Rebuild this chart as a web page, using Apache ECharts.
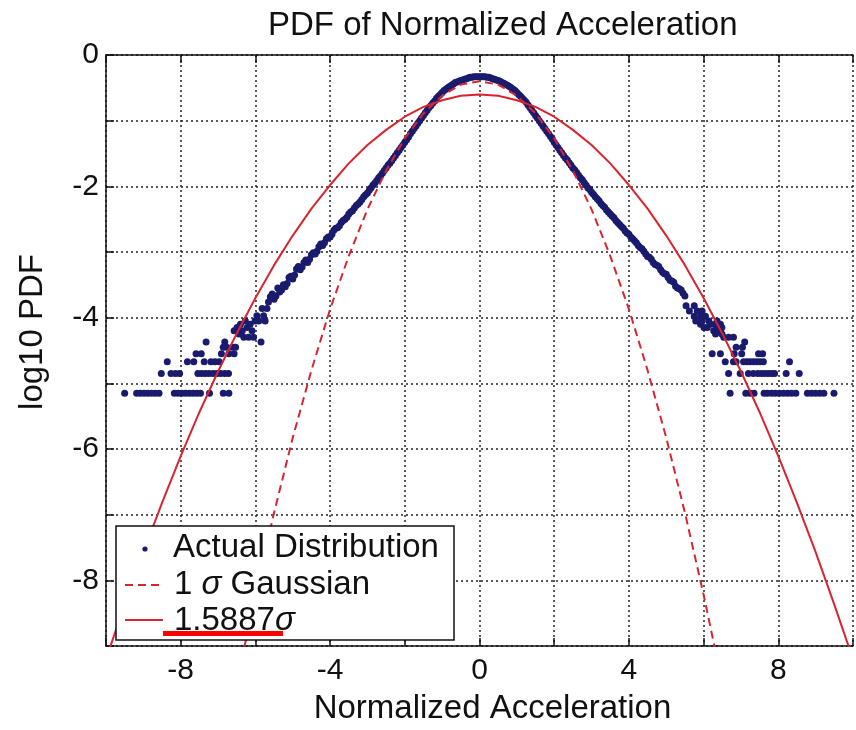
<!DOCTYPE html>
<html>
<head>
<meta charset="utf-8">
<script src="https://cdn.jsdelivr.net/npm/echarts@6/dist/echarts.min.js"></script>
<style>
  html, body { margin: 0; padding: 0; background: #fff; }
  #chart { width: 856px; height: 730px; }
</style>
</head>
<body>
<div id="chart"></div>
<script>
// Axis tick labels that carry text
const xTickLabels = [-8, -4, 0, 4, 8];
const yTickLabels = [0, -2, -4, -6, -8];

// Measured histogram: log10 of the PDF, core of the distribution [x, log10 pdf]
const actualCore = [
  [-5.6,-3.68],[-5.5,-3.72],[-5.4,-3.55],[-5.3,-3.58],[-5.2,-3.53],[-5.1,-3.39],[-5.0,-3.41],
  [-4.9,-3.26],[-4.8,-3.27],[-4.7,-3.16],[-4.6,-3.16],[-4.5,-3.04],[-4.4,-3.03],[-4.3,-2.92],
  [-4.2,-2.90],[-4.1,-2.80],[-4.0,-2.77],[-3.9,-2.67],[-3.8,-2.63],[-3.7,-2.55],[-3.6,-2.50],
  [-3.5,-2.42],[-3.4,-2.37],[-3.3,-2.29],[-3.2,-2.24],[-3.1,-2.16],[-3.0,-2.10],[-2.9,-2.02],
  [-2.8,-1.95],[-2.7,-1.87],[-2.6,-1.80],[-2.5,-1.72],[-2.4,-1.65],[-2.3,-1.57],[-2.2,-1.49],
  [-2.1,-1.41],[-2.0,-1.33],[-1.9,-1.25],[-1.8,-1.16],[-1.7,-1.08],[-1.6,-1.00],[-1.5,-0.92],
  [-1.4,-0.84],[-1.3,-0.77],[-1.2,-0.70],[-1.1,-0.63],[-1.0,-0.57],[-0.9,-0.52],[-0.8,-0.48],
  [-0.7,-0.44],[-0.6,-0.41],[-0.5,-0.39],[-0.4,-0.37],[-0.3,-0.35],[-0.2,-0.34],[-0.1,-0.33],
  [0.0,-0.33],
  [0.1,-0.33],[0.2,-0.34],[0.3,-0.35],[0.4,-0.37],[0.5,-0.39],[0.6,-0.42],[0.7,-0.45],
  [0.8,-0.48],[0.9,-0.52],[1.0,-0.57],[1.1,-0.63],[1.2,-0.69],[1.3,-0.76],[1.4,-0.84],
  [1.5,-0.92],[1.6,-1.00],[1.7,-1.08],[1.8,-1.16],[1.9,-1.24],[2.0,-1.33],[2.1,-1.41],
  [2.2,-1.49],[2.3,-1.57],[2.4,-1.64],[2.5,-1.72],[2.6,-1.79],[2.7,-1.87],[2.8,-1.94],
  [2.9,-2.02],[3.0,-2.09],[3.1,-2.16],[3.2,-2.22],[3.3,-2.29],[3.4,-2.36],[3.5,-2.42],
  [3.6,-2.48],[3.7,-2.55],[3.8,-2.61],[3.9,-2.68],[4.0,-2.73],[4.1,-2.80],[4.2,-2.86],
  [4.3,-2.93],[4.4,-2.99],[4.5,-3.07],[4.6,-3.11],[4.7,-3.19],[4.8,-3.22],[4.9,-3.31],
  [5.0,-3.34],[5.1,-3.43],[5.2,-3.46],[5.3,-3.55],[5.4,-3.58],[5.5,-3.67]
];

// Half-step bins of the core
const actualCoreMid = [
  [-5.55,-3.64],[-5.45,-3.67],[-5.35,-3.61],[-5.25,-3.50],[-5.15,-3.48],[-5.05,-3.37],[-4.95,-3.35],
  [-4.85,-3.22],[-4.75,-3.23],[-4.65,-3.12],[-4.55,-3.11],[-4.45,-3.01],[-4.35,-2.99],[-4.25,-2.88],
  [-4.15,-2.86],[-4.05,-2.77],[-3.95,-2.73],[-3.85,-2.64],[-3.75,-2.60],[-3.65,-2.52],[-3.55,-2.47],
  [-3.45,-2.39],[-3.35,-2.33],[-3.25,-2.27],[-3.15,-2.20],[-3.05,-2.13],[-2.95,-2.06],[-2.85,-1.98],
  [-2.75,-1.91],[-2.65,-1.84],[-2.55,-1.76],[-2.45,-1.68],[-2.35,-1.61],[-2.25,-1.53],[-2.15,-1.45],
  [-2.05,-1.37],[-1.95,-1.29],[-1.85,-1.20],[-1.75,-1.12],[-1.65,-1.04],[-1.55,-0.96],[-1.45,-0.88],
  [-1.35,-0.80],[-1.25,-0.73],[-1.15,-0.66],[-1.05,-0.60],[-0.95,-0.54],[-0.85,-0.50],[-0.75,-0.46],
  [-0.65,-0.42],[-0.55,-0.40],[-0.45,-0.38],[-0.35,-0.36],[-0.25,-0.34],[-0.15,-0.33],[-0.05,-0.33],
  [0.05,-0.33],[0.15,-0.33],[0.25,-0.34],[0.35,-0.36],[0.45,-0.38],[0.55,-0.40],[0.65,-0.43],
  [0.75,-0.46],[0.85,-0.50],[0.95,-0.54],[1.05,-0.60],[1.15,-0.66],[1.25,-0.72],[1.35,-0.80],
  [1.45,-0.88],[1.55,-0.96],[1.65,-1.04],[1.75,-1.12],[1.85,-1.20],[1.95,-1.28],[2.05,-1.37],
  [2.15,-1.45],[2.25,-1.53],[2.35,-1.60],[2.45,-1.68],[2.55,-1.75],[2.65,-1.83],[2.75,-1.90],
  [2.85,-1.98],[2.95,-2.05],[3.05,-2.12],[3.15,-2.19],[3.25,-2.26],[3.35,-2.32],[3.45,-2.39],
  [3.55,-2.45],[3.65,-2.52],[3.75,-2.58],[3.85,-2.64],[3.95,-2.71],[4.05,-2.77],[4.15,-2.83],
  [4.25,-2.90],[4.35,-2.95],[4.45,-3.03],[4.55,-3.08],[4.65,-3.16],[4.75,-3.20],[4.85,-3.27],
  [4.95,-3.33],[5.05,-3.39],[5.15,-3.44],[5.25,-3.52],[5.35,-3.56],[5.45,-3.63]
];

// Sparse negative tail (low counts per bin)
const actualLeftTail = [
  [-9.50,-5.15],[-9.18,-5.15],[-9.08,-5.15],[-8.98,-5.15],[-8.88,-5.15],[-8.78,-5.15],[-8.68,-5.15],
  [-8.58,-5.15],[-8.17,-5.15],[-8.07,-5.15],[-7.97,-5.15],[-7.87,-5.15],[-7.77,-5.15],[-7.67,-5.15],
  [-7.57,-5.15],[-7.47,-5.15],[-7.23,-5.15],[-6.86,-5.15],[-6.71,-5.15],
  [-8.52,-4.85],[-8.26,-4.85],[-8.14,-4.85],[-8.03,-4.85],[-7.54,-4.85],[-7.44,-4.85],[-7.34,-4.85],
  [-7.24,-4.85],[-7.13,-4.85],[-7.03,-4.85],[-6.93,-4.85],[-6.82,-4.85],[-6.72,-4.85],
  [-8.36,-4.67],[-7.82,-4.67],[-7.65,-4.67],[-7.37,-4.67],[-7.19,-4.67],[-7.08,-4.67],[-6.97,-4.67],
  [-7.59,-4.55],[-7.45,-4.55],[-6.91,-4.55],[-6.71,-4.55],[-6.57,-4.55],
  [-6.86,-4.45],[-6.77,-4.45],[-6.62,-4.45],[-6.53,-4.45],
  [-7.32,-4.37],[-6.82,-4.37],[-5.85,-4.37],
  [-6.57,-4.20],[-6.49,-4.15],[-6.44,-4.25],[-6.40,-4.10],[-6.35,-4.20],[-6.31,-4.30],
  [-6.27,-4.05],[-6.22,-4.15],[-6.18,-4.30],[-6.14,-4.10],[-6.09,-4.20],[-6.05,-4.30],
  [-6.01,-4.05],[-5.96,-3.97],[-5.91,-4.05],[-5.82,-3.86],[-5.78,-3.97],[-5.74,-4.05],
  [-5.69,-3.86],[-5.65,-3.76]
];

// Sparse positive tail
const actualRightTail = [
  [6.71,-5.15],[7.13,-5.15],[7.24,-5.15],[7.35,-5.15],[7.62,-5.15],[7.71,-5.15],[7.82,-5.15],
  [7.92,-5.15],[8.03,-5.15],[8.14,-5.15],[8.25,-5.15],[8.36,-5.15],[8.47,-5.15],[8.78,-5.15],
  [8.89,-5.15],[9.00,-5.15],[9.11,-5.15],[9.22,-5.15],[9.49,-5.15],
  [6.67,-4.85],[6.98,-4.85],[7.20,-4.85],[7.33,-4.85],[7.45,-4.85],[7.55,-4.85],[7.64,-4.85],
  [7.73,-4.85],[7.82,-4.85],[7.90,-4.85],[8.21,-4.85],[8.56,-4.85],
  [6.58,-4.67],[6.80,-4.67],[6.87,-4.67],[7.07,-4.67],[7.16,-4.67],[7.24,-4.67],[7.33,-4.67],
  [7.42,-4.67],[7.51,-4.67],[7.60,-4.67],[8.30,-4.67],
  [6.23,-4.55],[6.45,-4.55],[6.82,-4.55],[7.02,-4.55],[7.47,-4.55],[7.58,-4.55],
  [6.87,-4.45],[7.04,-4.45],[7.10,-4.37],
  [6.54,-4.30],[6.67,-4.30],[6.80,-4.30],
  [6.32,-4.25],[6.49,-4.25],[6.27,-4.20],[6.45,-4.20],
  [6.01,-4.15],[6.10,-4.15],[6.36,-4.15],[6.49,-4.15],
  [5.92,-4.10],[6.19,-4.10],[6.32,-4.10],[6.45,-4.10],
  [5.79,-4.05],[5.96,-4.05],[6.14,-4.05],[6.36,-4.05],
  [5.75,-3.98],[5.92,-3.98],[6.05,-3.98],
  [5.62,-3.90],[5.83,-3.90],[5.96,-3.90],
  [5.53,-3.82],[5.75,-3.82]
];

// Unit-variance Gaussian, log10 pdf
const gauss1X = [-6.5,-6,-5.5,-5,-4.5,-4,-3.5,-3,-2.5,-2,-1.5,-1,-0.5,0,0.5,1,1.5,2,2.5,3,3.5,4,4.5,5,5.5,6,6.5];
const gauss1Y = [-9.57,-8.22,-6.97,-5.83,-4.80,-3.87,-3.06,-2.35,-1.76,-1.27,-0.89,-0.62,-0.45,-0.40,
                 -0.45,-0.62,-0.89,-1.27,-1.76,-2.35,-3.06,-3.87,-4.80,-5.83,-6.97,-8.22,-9.57];

// Gaussian with sigma = 1.5887, log10 pdf
const gaussWideX = [-10,-9.5,-9,-8.5,-8,-7.5,-7,-6.5,-6,-5.5,-5,-4.5,-4,-3.5,-3,-2.5,-2,-1.5,-1,-0.5,0,
                    0.5,1,1.5,2,2.5,3,3.5,4,4.5,5,5.5,6,6.5,7,7.5,8,8.5,9,9.5,10];
const gaussWideY = [-9.20,-8.37,-7.57,-6.82,-6.11,-5.44,-4.82,-4.24,-3.70,-3.20,-2.75,-2.34,-1.98,-1.65,-1.37,-1.14,-0.94,-0.79,-0.69,-0.62,-0.60,
                    -0.62,-0.69,-0.79,-0.94,-1.14,-1.37,-1.65,-1.98,-2.34,-2.75,-3.20,-3.70,-4.24,-4.82,-5.44,-6.11,-6.82,-7.57,-8.37,-9.20];

const FONT = "'Liberation Sans', Arial, Helvetica, sans-serif";
const NAVY = '#1b1b6e';
const RED = '#d8252f';
const INK = '#111';

const zip = (xs, ys) => xs.map((x, i) => [x, ys[i]]);

const chart = echarts.init(document.getElementById('chart'), null, { renderer: 'canvas' });

const gridLine = { show: true, lineStyle: { color: '#222', type: [2, 3], width: 1.5 } };
const frameLine = { show: true, onZero: false, lineStyle: { color: INK, width: 1.5 } };
const innerTick = { show: true, inside: true, length: 8, lineStyle: { color: INK, width: 1.5 } };

const LEGEND_Z = 50;

chart.setOption({
  backgroundColor: '#fff',
  animation: false,
  title: {
    text: 'PDF of Normalized Acceleration',
    left: 263, top: 4,
    textStyle: { fontFamily: FONT, fontSize: 33, fontWeight: 'normal', color: INK }
  },
  grid: { left: 106, top: 55, width: 758, height: 594, containLabel: false },
  xAxis: [
    {
      type: 'value', position: 'bottom', min: -10, max: 10, interval: 2,
      name: 'Normalized Acceleration', nameLocation: 'middle', nameGap: 46,
      nameTextStyle: { fontFamily: FONT, fontSize: 33, color: INK, padding: [0, 0, 0, 26] },
      axisLine: frameLine,
      axisTick: innerTick,
      axisLabel: {
        fontFamily: FONT, fontSize: 30, color: INK, margin: 10,
        formatter: v => (xTickLabels.indexOf(v) >= 0 ? String(v) : '')
      },
      splitLine: gridLine
    },
    {
      type: 'value', position: 'top', min: -10, max: 10, interval: 2,
      axisLine: frameLine,
      axisTick: innerTick,
      axisLabel: { show: false },
      splitLine: { show: false }
    }
  ],
  yAxis: {
    type: 'value', position: 'left', min: -9, max: 0, interval: 1,
    axisLine: frameLine,
    axisTick: innerTick,
    axisLabel: {
      fontFamily: FONT, fontSize: 30, color: INK, margin: 7,
      formatter: v => (yTickLabels.indexOf(v) >= 0 ? String(v) : '')
    },
    splitLine: gridLine
  },
  series: [
    {
      name: 'Actual Distribution', type: 'scatter', xAxisIndex: 0,
      data: actualCore.concat(actualCoreMid, actualLeftTail, actualRightTail),
      symbol: 'circle', symbolSize: 7,
      itemStyle: { color: NAVY, opacity: 1 }, z: 3
    },
    {
      name: '1σ Gaussian', type: 'line', xAxisIndex: 0,
      data: zip(gauss1X, gauss1Y), symbol: 'none', smooth: false, clip: true,
      lineStyle: { color: RED, width: 2, type: [8, 5] }, z: 4
    },
    {
      name: '1.5887σ', type: 'line', xAxisIndex: 0,
      data: zip(gaussWideX, gaussWideY), symbol: 'none', smooth: false, clip: true,
      lineStyle: { color: RED, width: 2 }, z: 5
    }
  ],
  graphic: [
    {
      type: 'text', x: 33, y: 332, rotation: Math.PI / 2, z: LEGEND_Z,
      style: { text: 'log10 PDF', font: '33px ' + FONT, fill: INK, align: 'center', verticalAlign: 'middle' }
    },
    { type: 'rect', z: LEGEND_Z, shape: { x: 116, y: 526, width: 338, height: 114 },
      style: { fill: '#fff', stroke: INK, lineWidth: 1.5 } },
    { type: 'circle', z: LEGEND_Z + 1, shape: { cx: 145, cy: 549, r: 2.6 }, style: { fill: NAVY } },
    { type: 'line', z: LEGEND_Z + 1, shape: { x1: 125, y1: 585, x2: 163, y2: 585 },
      style: { stroke: RED, lineWidth: 2, lineDash: [8, 5] } },
    { type: 'line', z: LEGEND_Z + 1, shape: { x1: 125, y1: 620, x2: 163, y2: 620 },
      style: { stroke: RED, lineWidth: 2 } },
    { type: 'text', z: LEGEND_Z + 1, x: 173, y: 548,
      style: { text: 'Actual Distribution', font: '33px ' + FONT, fill: INK, verticalAlign: 'middle' } },
    { type: 'text', z: LEGEND_Z + 1, x: 174, y: 585,
      style: { text: '1 {s|σ} Gaussian', font: '33px ' + FONT, fill: INK, verticalAlign: 'middle',
               rich: { s: { fontStyle: 'italic', fontSize: 33, fontFamily: FONT, fill: INK } } } },
    { type: 'text', z: LEGEND_Z + 1, x: 174, y: 621,
      style: { text: '1.5887{s|σ}', font: '33px ' + FONT, fill: INK, verticalAlign: 'middle',
               rich: { s: { fontStyle: 'italic', fontSize: 33, fontFamily: FONT, fill: INK } } } },
    { type: 'rect', z: LEGEND_Z + 2, shape: { x: 163, y: 631, width: 120, height: 5 }, style: { fill: '#ff0000' } }
  ]
});
</script>
</body>
</html>
